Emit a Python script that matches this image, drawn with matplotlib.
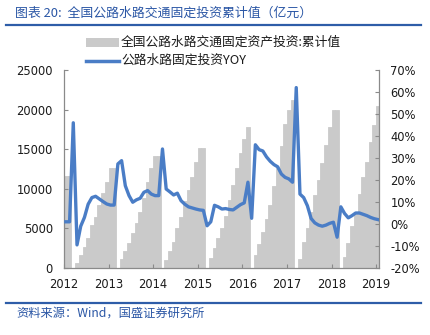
import numpy as np
import matplotlib
matplotlib.use('Agg')
import matplotlib.pyplot as plt
from matplotlib.lines import Line2D
from matplotlib.patches import Rectangle

plt.rcParams['font.family'] = ['Noto Sans CJK SC', 'DejaVu Sans']

# ---------------- data ----------------
year_labels = ['2012', '2013', '2014', '2015', '2016', '2017', '2018', '2019']

# cumulative investment (亿元); Jan has no value (Jan-Feb reported in Feb)
cum_2011 = [11600, 11600]                                                    # Nov, Dec
cum_2012 = [600, 1600, 2700, 3800, 5400, 6500, 8000, 9500, 10900, 12600, 12600]   # Feb-Dec
cum_2013 = [1100, 2100, 3200, 4400, 5700, 7100, 8900, 10900, 12600, 14200, 14200]
cum_2014 = [1000, 2100, 3300, 5000, 6500, 8400, 9800, 11500, 13400, 15100, 15100]
cum_2015 = [1200, 2500, 3800, 5000, 6600, 8600, 10500, 12600, 14500, 16300, 17800]
cum_2016 = [1600, 3000, 4500, 6200, 8000, 10300, 12600, 15400, 18200, 20000, 21200]
cum_2017 = [1100, 3300, 5100, 7100, 9200, 11100, 13200, 15500, 17800, 20000, 20000]
cum_2018 = [1400, 3200, 5300, 7100, 9400, 11500, 13400, 15900, 18100, 20400]      # Feb-Nov

# YOY (%)
yoy_2011 = [1.0, 1.0]                                                        # Nov, Dec
yoy_2012 = [46.0, -9.5, -1.0, 3.0, 9.0, 12.0, 12.6, 11.4, 10.2, 9.1, 8.6, 8.6]
yoy_2013 = [27.3, 28.8, 17.4, 12.9, 9.9, 11.0, 11.7, 14.4, 15.2, 13.6, 12.9, 12.9]
yoy_2014 = [34.1, 15.9, 14.6, 13.2, 14.0, 10.6, 9.0, 7.8, 7.3, 6.8, 6.4, 6.2]
yoy_2015 = [-0.8, 1.0, 8.5, 7.8, 6.8, 7.0, 6.6, 6.4, 7.6, 8.8, 9.6, 19.0]
yoy_2016 = [2.6, 36.0, 33.8, 33.2, 30.5, 28.5, 27.0, 26.0, 22.7, 21.2, 20.5, 19.0]
yoy_2017 = [62.0, 13.6, 12.0, 8.3, 2.5, 0.5, -0.5, -1.0, -0.5, 0.3, 0.8, -6.0]
yoy_2018 = [7.8, 4.8, 2.8, 3.8, 5.0, 5.0, 4.4, 3.8, 3.0, 2.4, 2.0]           # Jan-Nov

# ---------------- series assembly ----------------
bars = list(cum_2011)
for yr in [cum_2012, cum_2013, cum_2014, cum_2015, cum_2016, cum_2017, cum_2018]:
    bars += [np.nan] + list(yr)
bars = np.array(bars, dtype=float)
yoy = np.array(yoy_2011 + yoy_2012 + yoy_2013 + yoy_2014 + yoy_2015 +
               yoy_2016 + yoy_2017 + yoy_2018, dtype=float)
months = np.arange(-2, -2 + len(bars))   # month index, Jan 2012 = 0

# ---------------- figure ----------------
W, H = 430, 335
fig = plt.figure(figsize=(W / 100, H / 100), dpi=100)

def fx(px):
    return px / W

def fy(py):
    return 1 - py / H

bar_c = '#CACACA'
ax_l, ax_r, ax_t, ax_b = 64, 379.3, 70, 268
ax = fig.add_axes([fx(ax_l), fy(ax_b), fx(ax_r - ax_l), (ax_b - ax_t) / H])
ax.bar(months, bars, width=1.0, color=bar_c, edgecolor=bar_c, linewidth=0.6,
       align='center', zorder=1)
ax.set_ylim(0, 25000)
ax.set_yticks(np.arange(0, 25001, 5000))
ax.set_xlim(-2.5, 82.35)
ax.set_xticks([12 * k - 2.5 for k in range(len(year_labels))])
ax.set_xticklabels(year_labels)

ax2 = ax.twinx()
ax2.plot(months, yoy, color='#4A7DC6', lw=2.4, solid_joinstyle='round', zorder=3)
ax2.set_ylim(-20, 70)
ax2.set_yticks(np.arange(-20, 71, 10))
ax2.set_yticklabels([f'{v}%' for v in range(-20, 71, 10)])

spine_c = '#8A8A8A'
for a in (ax, ax2):
    a.spines['top'].set_visible(False)
    for s in ('left', 'right', 'bottom'):
        a.spines[s].set_color(spine_c)
        a.spines[s].set_linewidth(0.9)
ax2.spines['left'].set_visible(False)
ax2.spines['bottom'].set_visible(False)
ax.spines['right'].set_visible(False)

tick_font = dict(labelsize=8.3, labelcolor='#1a1a1a', color=spine_c)
ax.tick_params(axis='y', direction='in', length=3, pad=8, **tick_font)
ax.tick_params(axis='x', direction='in', length=3, pad=7, **tick_font)
ax2.tick_params(axis='y', direction='in', length=3, pad=8, **tick_font)
for lab in ax.get_xticklabels() + ax.get_yticklabels() + ax2.get_yticklabels():
    lab.set_family('DejaVu Sans')

# ---------------- legend (manual) ----------------
fig.patches.append(Rectangle((fx(86), fy(46.7)), fx(33.3), 8.4 / H,
                             transform=fig.transFigure, color=bar_c, lw=0))
fig.text(fx(121), fy(42.5), '全国公路水路交通固定资产投资:累计值', fontsize=9.2,
         va='center', ha='left', color='#1a1a1a')
fig.lines.append(Line2D([fx(86), fx(119.3)], [fy(60.5), fy(60.5)],
                        transform=fig.transFigure, color='#4A7DC6', lw=2.5))
fig.text(fx(121), fy(60.5), '公路水路固定投资YOY', fontsize=9.2,
         va='center', ha='left', color='#1a1a1a')

# ---------------- title and footer ----------------
blue = '#2A56A5'
fig.text(fx(15), fy(13), '图表 20:  全国公路水路交通固定投资累计值（亿元）', fontsize=9.3,
         color=blue, va='center', ha='left', style='italic')
fig.lines.append(Line2D([fx(6), fx(421)], [fy(25), fy(25)], transform=fig.transFigure,
                        color='#2E5DA8', lw=1.6))
fig.lines.append(Line2D([fx(6), fx(421)], [fy(303.3), fy(303.3)], transform=fig.transFigure,
                        color='#2E5DA8', lw=1.6))
fig.text(fx(16), fy(313), '资料来源：Wind，国盛证券研究所', fontsize=8.8,
         color=blue, va='center', ha='left', style='italic')

fig.savefig('out.png', dpi=100)
